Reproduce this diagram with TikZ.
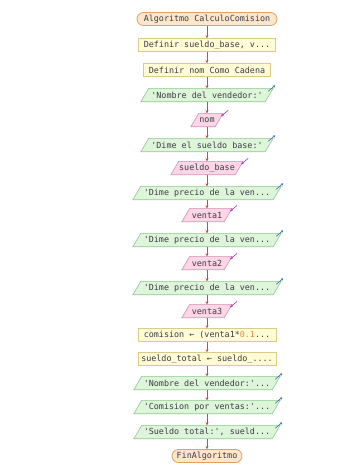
\documentclass[tikz,border=0pt]{standalone}
\usepackage{fontspec}
\setmonofont{DejaVu Sans Mono}
\usetikzlibrary{shapes.misc,arrows.meta,backgrounds}
\definecolor{termfill}{HTML}{FDE6CC}
\definecolor{termdraw}{HTML}{E2A25E}
\definecolor{procfill}{HTML}{FFFCD6}
\definecolor{procdraw}{HTML}{DCCB86}
\definecolor{outfill}{HTML}{DDF6DA}
\definecolor{outdraw}{HTML}{8CC98A}
\definecolor{infill}{HTML}{FAD6E6}
\definecolor{indraw}{HTML}{DB8FB4}
\definecolor{txt}{HTML}{3C3C44}
\definecolor{flow}{HTML}{D64545}
\definecolor{outarrow}{HTML}{3C64C8}
\definecolor{inarrow}{HTML}{8A3CC0}
\definecolor{numcol}{HTML}{E08A3A}
\tikzset{
  base/.style={font=\ttfamily\fontsize{8.4}{10}\selectfont, text=txt, inner sep=0pt, minimum height=13pt, anchor=center},
  term/.style={base, rounded rectangle, fill=termfill, draw=termdraw, line width=0.8pt},
  proc/.style={base, rectangle, fill=procfill, draw=procdraw, line width=0.6pt},
  iotext/.style={base},
  flowline/.style={draw=flow, line width=0.6pt, -{Stealth[length=3pt,width=3pt]}},
  outind/.style={draw=outarrow, line width=0.6pt, -{Stealth[length=2.5pt,width=2.5pt]}},
  inind/.style={draw=inarrow, line width=0.6pt, -{Stealth[length=2.5pt,width=2.5pt]}},
}
\newcommand{\outpara}[4]{% name, y, halfwidth, text
  \node[iotext, minimum width=#3pt*2-8pt] (#1) at (207,#2) {#4};
  \begin{scope}[on background layer]
    \filldraw[fill=outfill, draw=outdraw, line width=0.6pt]
      ([xshift=-4pt]#1.south west) -- ([xshift=4pt]#1.north west) -- ([xshift=4pt]#1.north east) -- ([xshift=-4pt]#1.south east) -- cycle;
  \end{scope}
  \draw[outind] ([xshift=-1pt,yshift=-3pt]#1.north east) -- ([xshift=6pt,yshift=3pt]#1.north east);
}
\newcommand{\inpara}[4]{% name, y, halfwidth, text
  \node[iotext, minimum width=#3pt*2-8pt] (#1) at (207,#2) {#4};
  \begin{scope}[on background layer]
    \filldraw[fill=infill, draw=indraw, line width=0.6pt]
      ([xshift=-4pt]#1.south west) -- ([xshift=4pt]#1.north west) -- ([xshift=4pt]#1.north east) -- ([xshift=-4pt]#1.south east) -- cycle;
  \end{scope}
  \draw[inind] ([xshift=9pt,yshift=3pt]#1.north east) -- ([xshift=2pt,yshift=-3pt]#1.north east);
}
\begin{document}
\begin{tikzpicture}[x=1pt,y=-1pt]
\useasboundingbox (0,0) rectangle (346,469);
\node[term, minimum width=140pt] (n1) at (207,19) {Algoritmo CalculoComision};
\node[proc, minimum width=137pt] (n2) at (207,45) {Definir sueldo\_base, v...};
\node[proc, minimum width=127pt] (n3) at (207,70) {Definir nom Como Cadena};
\outpara{n4}{95}{66}{'Nombre del vendedor:'}
\inpara{n5}{120}{16}{nom}
\outpara{n6}{145}{66}{'Dime el sueldo base:'}
\inpara{n7}{168}{36}{sueldo\_base}
\outpara{n8}{193}{74}{'Dime precio de la ven...}
\inpara{n9}{215}{25}{venta1}
\outpara{n10}{240}{74}{'Dime precio de la ven...}
\inpara{n11}{263}{25}{venta2}
\outpara{n12}{288}{74}{'Dime precio de la ven...}
\inpara{n13}{311}{25}{venta3}
\node[proc, minimum width=138pt] (n14) at (207,335) {comision ← (venta1*\textcolor{numcol}{0.1}...};
\node[proc, minimum width=138pt] (n15) at (207,359) {sueldo\_total ← sueldo\_....};
\outpara{n16}{383}{73}{'Nombre del vendedor:'...}
\outpara{n17}{407}{73}{'Comision por ventas:'...}
\outpara{n18}{432}{73}{'Sueldo total:', sueld...}
\node[term, minimum width=70pt] (n19) at (207,456) {FinAlgoritmo};
\foreach \a/\b in {n1/n2,n2/n3,n3/n4,n4/n5,n5/n6,n6/n7,n7/n8,n8/n9,n9/n10,n10/n11,n11/n12,n12/n13,n13/n14,n14/n15,n15/n16,n16/n17,n17/n18,n18/n19}
  \draw[flowline] (\a.south) -- (\b.north);
\end{tikzpicture}
\end{document}
